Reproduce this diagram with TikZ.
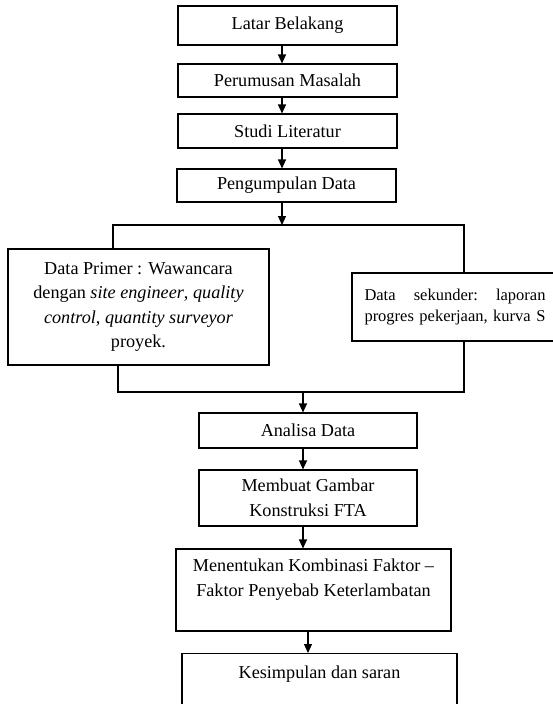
\documentclass[tikz,border=0pt]{standalone}
\usepackage{fontspec}
\setmainfont{Liberation Serif}
\usetikzlibrary{arrows.meta}

\begin{document}
\begin{tikzpicture}[x=1pt,y=-1pt,
  kotak/.style={draw, line width=1.1pt, inner sep=0pt, align=center,
    font=\fontsize{18.2}{24.5}\selectfont},
  panah/.style={-{Triangle[length=9pt,width=8pt]}, line width=1.1pt},
  garis/.style={line width=1.1pt}]
\useasboundingbox (0,0) rectangle (553,704);
\clip (0,0) rectangle (553,704);
\node[kotak, minimum width=219, minimum height=39] (latar) at (287.5,25.5) {Latar Belakang};
\node[kotak, minimum width=219, minimum height=33] (rumusan) at (287.5,80.5) {Perumusan Masalah};
\node[kotak, minimum width=219, minimum height=34] (studi) at (287.5,131) {Studi Literatur};
\node[kotak, minimum width=219, minimum height=33] (kumpul) at (286.5,185.5) {Pengumpulan Data};
\node[kotak, minimum width=261, minimum height=116] (primer) at (138.5,307)
  {Data Primer : Wawancara\\dengan \textit{site engineer}, \textit{quality}\\\textit{control}, \textit{quantity surveyor}\\proyek.};
\node[kotak, minimum width=206, minimum height=68, text width=181, align=left,
  font=\fontsize{16.5}{21}\selectfont] (sekunder) at (455,307)
  {Data\hfill sekunder:\hfill laporan\\\mbox{progres pekerjaan, kurva S}};
\node[kotak, minimum width=218, minimum height=35] (analisa) at (308,430.5) {Analisa Data};
\node[kotak, minimum width=218, minimum height=56] (gambar) at (308,498) {Membuat Gambar\\Konstruksi FTA};
\node[kotak, minimum width=275, minimum height=82] (tentukan) at (313.5,590)
  {Menentukan Kombinasi Faktor --\\Faktor Penyebab Keterlambatan\\~};
\node[kotak, minimum width=275, text height=25, text depth=55, anchor=north] (simpul) at (319.5,653)
  {Kesimpulan dan saran};
\coordinate (cabang) at (282,225);
\coordinate (cabangKiri) at (113,225);
\coordinate (cabangKanan) at (464,225);
\coordinate (gabung) at (303,392);
\coordinate (gabungKiri) at (118,392);
\coordinate (gabungKanan) at (464,392);
\draw[panah] ([xshift=-5.5]latar.south) -- ([xshift=-5.5]rumusan.north);
\draw[panah] ([xshift=-5.5]rumusan.south) -- ([xshift=-5.5]studi.north);
\draw[panah] ([xshift=-5.5]studi.south) -- ([xshift=-4.5]kumpul.north);
\draw[panah] ([xshift=-4.5]kumpul.south) -- (cabang);
\draw[garis] (primer.north -| cabangKiri) |- (cabangKanan) -- (cabangKanan |- sekunder.north);
\draw[garis] (primer.south -| gabungKiri) |- (gabungKanan) -- (gabungKanan |- sekunder.south);
\draw[panah] (gabung) -- ([xshift=-5]analisa.north);
\draw[panah] ([xshift=-5]analisa.south) -- ([xshift=-5]gambar.north);
\draw[panah] ([xshift=-5]gambar.south) -- ([xshift=-5]gambar.south |- tentukan.north);
\draw[panah] ([xshift=-5.5]tentukan.south) -- ([xshift=-5.5]tentukan.south |- simpul.north);
\end{tikzpicture}
\end{document}
